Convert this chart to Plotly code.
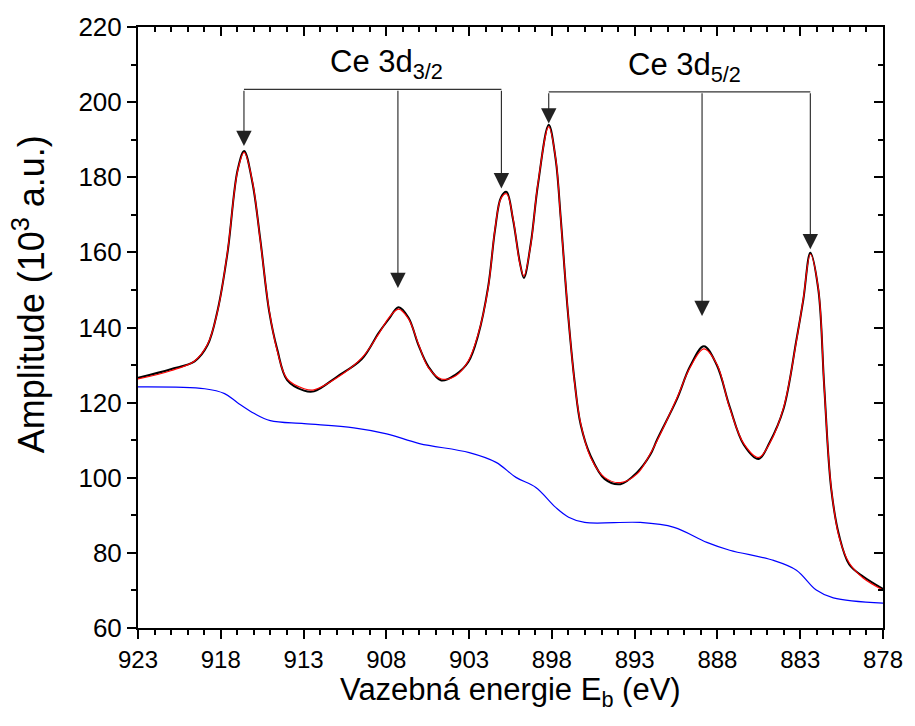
import plotly.graph_objects as go

# ---- data ----
energy = [923.00, 921.02, 919.58, 918.79, 918.19, 917.59, 916.99, 916.59, 916.09, 915.61,
          915.07, 914.59, 913.99, 912.97, 912.37, 910.98, 909.48, 908.46, 907.86, 907.26,
          906.66, 906.06, 905.46, 904.68, 903.83, 903.05, 902.45, 901.85, 901.43, 901.07,
          900.74, 900.35, 899.93, 899.69, 899.27, 898.85, 898.19, 897.77, 897.47, 897.05,
          896.62, 896.26, 895.66, 894.82, 893.86, 892.84, 892.06, 891.64, 890.44, 889.66,
          888.82, 888.04, 887.26, 886.41, 885.51, 884.85, 884.01, 883.23, 882.81, 882.39,
          881.91, 881.55, 881.13, 880.65, 880.04, 879.20, 878.00]
amp_fit = [126.3, 128.5, 131.1, 135.6, 144.4, 160.3, 181.5, 186.6, 178.9, 163.0,
           144.4, 133.8, 126.3, 123.7, 123.4, 126.6, 131.9, 138.3, 142.5, 144.9,
           142.3, 135.6, 129.3, 126.3, 127.1, 131.1, 138.3, 150.5, 166.4, 174.4,
           175.6, 169.1, 156.9, 153.7, 162.2, 178.1, 193.5, 185.0, 169.1, 145.2,
           125.0, 114.4, 105.4, 100.1, 98.7, 101.1, 106.4, 109.9, 121.3, 129.3,
           134.3, 130.3, 118.6, 109.1, 105.4, 109.1, 118.6, 136.4, 147.8, 159.5,
           150.5, 124.0, 97.4, 84.2, 77.3, 73.3, 70.1]
amp_meas = [126.6, 128.9, 131.0, 135.4, 144.6, 160.0, 181.8, 187.0, 178.6, 163.3,
            144.1, 134.2, 126.0, 123.2, 123.0, 126.9, 131.6, 138.6, 142.2, 145.4,
            142.6, 135.3, 129.6, 125.9, 127.4, 130.8, 138.0, 150.8, 166.1, 174.7,
            176.1, 168.8, 157.2, 153.2, 162.5, 177.8, 194.0, 184.7, 169.4, 144.9,
            125.3, 114.1, 105.8, 99.7, 98.3, 101.5, 106.1, 110.2, 121.0, 129.6,
            135.0, 130.0, 118.9, 108.8, 105.0, 109.4, 118.3, 136.7, 147.5, 159.9,
            150.2, 124.3, 97.1, 84.6, 76.9, 73.7, 70.4]

energy_bg = [923.00, 918.97, 917.77, 916.99, 915.97, 915.01, 912.97, 909.96, 907.98, 906.00,
             902.99, 901.37, 900.17, 898.97, 897.77, 896.99, 896.02, 892.66, 890.62, 888.64,
             887.26, 884.61, 883.23, 882.03, 881.00, 878.00]
amp_bg = [124.2, 123.7, 122.4, 120.0, 117.1, 115.2, 114.4, 113.3, 111.7, 109.1,
          106.7, 104.1, 100.1, 97.4, 92.1, 89.5, 88.1, 88.1, 86.8, 82.8,
          80.7, 78.0, 75.4, 70.1, 68.0, 66.6]

x_ticks = [923, 918, 913, 908, 903, 898, 893, 888, 883, 878]
y_ticks = [60, 80, 100, 120, 140, 160, 180, 200, 220]

x_title = "Vazebná energie E<sub>b</sub> (eV)"
y_title = "Amplitude (10<sup>3</sup> a.u.)"

label_32 = "Ce 3d<sub>3/2</sub>"
peaks_32_x = [916.6, 907.3, 901.05]
peaks_32_tip = [188.3, 150.5, 177.0]
bracket_32 = 203.4
label_32_x = 908.0

label_52 = "Ce 3d<sub>5/2</sub>"
peaks_52_x = [898.19, 888.93, 882.39]
peaks_52_tip = [194.3, 143.05, 160.8]
bracket_52 = 202.75
label_52_x = 890.0

FONT = "Liberation Sans, Arial, sans-serif"

fig = go.Figure()
fig.add_trace(go.Scatter(x=energy_bg, y=amp_bg, mode="lines", line=dict(color="#0000ff", width=1.2, shape="spline"), showlegend=False))
fig.add_trace(go.Scatter(x=energy, y=amp_meas, mode="lines", line=dict(color="black", width=2, shape="spline"), showlegend=False))
fig.add_trace(go.Scatter(x=energy, y=amp_fit, mode="lines", line=dict(color="#ff0000", width=1.2, shape="spline"), showlegend=False))
# invisible trace for mirror axes
fig.add_trace(go.Scatter(x=[x_ticks[0]], y=[y_ticks[0]], xaxis="x2", yaxis="y2", mode="markers", marker=dict(opacity=0), showlegend=False, hoverinfo="skip"))

shapes = []
annotations = []
for px_list, tips, level, lab, lx in [(peaks_32_x, peaks_32_tip, bracket_32, label_32, label_32_x),
                                      (peaks_52_x, peaks_52_tip, bracket_52, label_52, label_52_x)]:
    shapes.append(dict(type="line", xref="x", yref="y", x0=px_list[0], x1=px_list[-1], y0=level, y1=level,
                       line=dict(color="#333333", width=1.2)))
    for xp, tp in zip(px_list, tips):
        annotations.append(dict(x=xp, y=tp, ax=xp, ay=level, xref="x", yref="y", axref="x", ayref="y",
                                showarrow=True, arrowhead=2, arrowsize=2.8, arrowwidth=1.1, arrowcolor="#222222", text=""))
    annotations.append(dict(x=lx, y=level, xref="x", yref="y", text=lab, showarrow=False, yanchor="bottom", yshift=3,
                            font=dict(family=FONT, size=31, color="black")))

# axis titles as annotations (reference y title sits above the plot centre)
annotations.append(dict(text=y_title, xref="paper", yref="paper", x=-0.147, y=0.556, textangle=-90,
                        showarrow=False, xanchor="center", yanchor="middle", font=dict(family=FONT, size=36, color="black")))
annotations.append(dict(text=x_title, xref="paper", yref="paper", x=0.5, y=-0.07,
                        showarrow=False, xanchor="center", yanchor="top", font=dict(family=FONT, size=31, color="black")))

axis_common = dict(showline=True, linecolor="black", linewidth=2, showgrid=False, zeroline=False,
                   tickcolor="black", tickwidth=2, ticklen=9)

fig.update_layout(
    width=915, height=726,
    margin=dict(l=138, r=28, t=25, b=98),
    paper_bgcolor="white", plot_bgcolor="white",
    font=dict(family=FONT, color="black"),
    xaxis=dict(range=[923, 878], tickvals=x_ticks, ticks="outside",
               minor=dict(dtick=1, tick0=878, ticks="outside", ticklen=5, tickcolor="black", tickwidth=1.5),
               tickfont=dict(size=24),
               **axis_common),
    yaxis=dict(range=[60, 220], tickvals=y_ticks, ticks="outside",
               minor=dict(dtick=10, tick0=60, ticks="outside", ticklen=5, tickcolor="black", tickwidth=1.5),
               tickfont=dict(size=26),
               **axis_common),
    xaxis2=dict(range=[923, 878], overlaying="x", side="top", tickvals=x_ticks, ticks="inside", showticklabels=False,
                minor=dict(dtick=1, tick0=878, ticks="inside", ticklen=5, tickcolor="black", tickwidth=1.5),
                **axis_common),
    yaxis2=dict(range=[60, 220], overlaying="y", side="right", tickvals=y_ticks, ticks="inside", showticklabels=False,
                minor=dict(dtick=10, tick0=60, ticks="inside", ticklen=5, tickcolor="black", tickwidth=1.5),
                **axis_common),
    shapes=shapes,
    annotations=annotations,
)

fig.write_html("out.html")
